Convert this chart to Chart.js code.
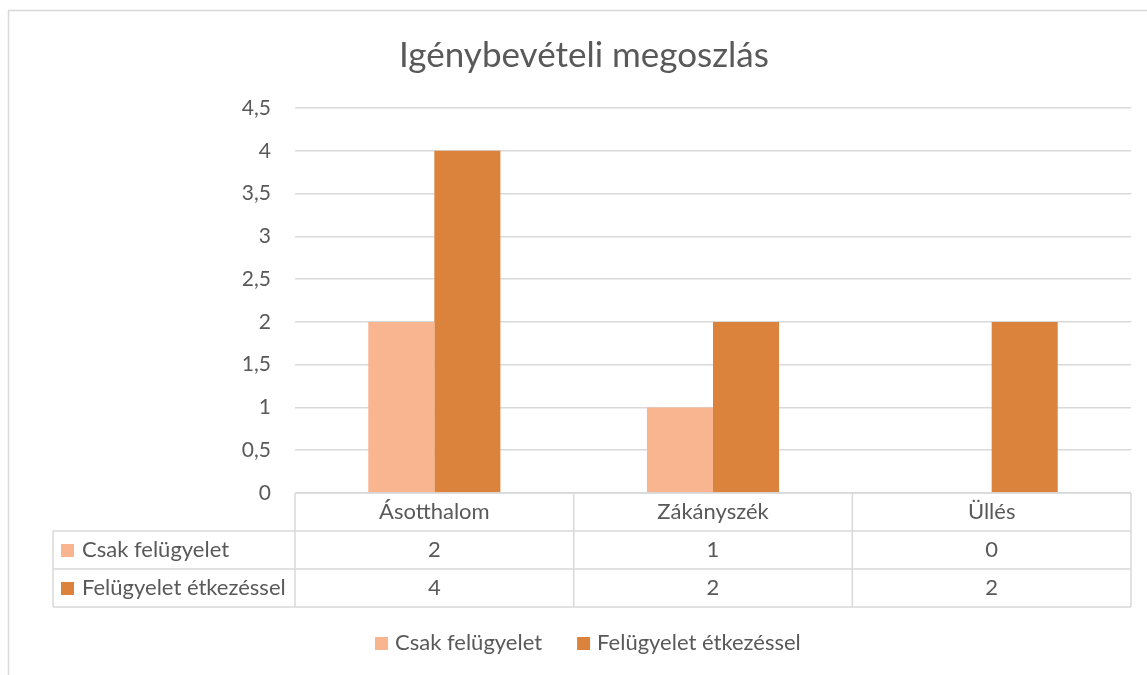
<!DOCTYPE html>
<html>
<head>
  <meta charset="utf-8">
  <title>Igénybevételi megoszlás</title>
  <script src="https://cdn.jsdelivr.net/npm/chart.js"></script>
  <style>
    body { margin: 0; background: #fff; }
    #wrap { width: 1147px; height: 675px; }
  </style>
</head>
<body>
  <div id="wrap"><canvas id="chart"></canvas></div>

  <script>
    const title = "Igénybevételi megoszlás";
    const places = ["Ásotthalom", "Zákányszék", "Üllés"];
    const seriesNames = ["Csak felügyelet", "Felügyelet étkezéssel"];
    const onlySupervision = [2, 1, 0];
    const withMeals = [4, 2, 2];
    const colors = ["#F8B590", "#DB833D"];

    const FONT = "Lato, 'Open Sans', sans-serif";
    const TEXT = "#595959";
    const LINE = "#d9d9d9";

    // Excel-style frame, title, data table and legend
    const excelBits = {
      id: "excelBits",
      afterDraw(chart) {
        const ctx = chart.ctx;
        const x = chart.scales.x;
        const area = chart.chartArea;
        const rowH = 38;
        const tableLeft = 53;
        const top = area.bottom;

        ctx.save();
        ctx.strokeStyle = LINE;
        ctx.lineWidth = 1.5;
        ctx.strokeRect(8.5, 10.5, 1160, 700);

        ctx.fillStyle = TEXT;
        ctx.textAlign = "center";
        ctx.textBaseline = "middle";
        ctx.font = "35px " + FONT;
        ctx.fillText(title, 584, 56);

        // column edges from the category scale
        const edges = [];
        const step = x.getPixelForValue(1) - x.getPixelForValue(0);
        places.forEach((p, i) => edges.push(x.getPixelForValue(i) - step / 2));
        edges.push(x.getPixelForValue(places.length - 1) + step / 2);

        ctx.lineWidth = 1.5;
        ctx.beginPath();
        ctx.moveTo(edges[0], top); ctx.lineTo(edges[edges.length - 1], top);
        for (let r = 1; r <= 3; r++) {
          const y = top + r * rowH;
          ctx.moveTo(tableLeft, y); ctx.lineTo(edges[edges.length - 1], y);
        }
        edges.forEach((e) => {
          ctx.moveTo(e, top); ctx.lineTo(e, top + 3 * rowH);
        });
        ctx.moveTo(tableLeft, top + rowH); ctx.lineTo(tableLeft, top + 3 * rowH);
        ctx.stroke();

        ctx.font = "22px " + FONT;
        places.forEach((p, i) => {
          ctx.fillText(p, x.getPixelForValue(i), top + rowH / 2);
        });
        chart.data.datasets.forEach((ds, r) => {
          const cy = top + (r + 1.5) * rowH;
          ctx.fillStyle = ds.backgroundColor;
          ctx.fillRect(61, cy - 6, 13, 13);
          ctx.fillStyle = TEXT;
          ctx.textAlign = "left";
          ctx.fillText(ds.label, 82, cy);
          ctx.textAlign = "center";
          ds.data.forEach((v, i) => ctx.fillText(String(v), x.getPixelForValue(i), cy));
        });

        // legend
        const ly = 643;
        let lx = 375;
        chart.data.datasets.forEach((ds) => {
          ctx.fillStyle = ds.backgroundColor;
          ctx.fillRect(lx, ly - 6, 13, 13);
          ctx.fillStyle = TEXT;
          ctx.textAlign = "left";
          ctx.fillText(ds.label, lx + 20, ly);
          lx += 20 + ctx.measureText(ds.label).width + 35;
        });
        ctx.restore();
      }
    };

    new Chart(document.getElementById("chart"), {
      type: "bar",
      data: {
        labels: places,
        datasets: [
          { label: seriesNames[0], data: onlySupervision, backgroundColor: colors[0] },
          { label: seriesNames[1], data: withMeals, backgroundColor: colors[1] }
        ]
      },
      options: {
        responsive: true,
        maintainAspectRatio: false,
        animation: false,
        layout: { padding: { left: 8, right: 16, top: 108, bottom: 182 } },
        plugins: { legend: { display: false }, tooltip: { enabled: false } },
        datasets: { bar: { categoryPercentage: 0.474, barPercentage: 1 } },
        scales: {
          x: { display: false },
          y: {
            min: 0,
            max: 4.5,
            afterFit: (s) => { s.width = 287; },
            border: { display: false },
            grid: { color: LINE, lineWidth: 1.5, drawTicks: false },
            ticks: {
              stepSize: 0.5,
              padding: 24,
              color: TEXT,
              font: { family: FONT, size: 21 },
              callback: (v) => String(v).replace(".", ",")
            }
          }
        }
      },
      plugins: [excelBits]
    });
  </script>
</body>
</html>
